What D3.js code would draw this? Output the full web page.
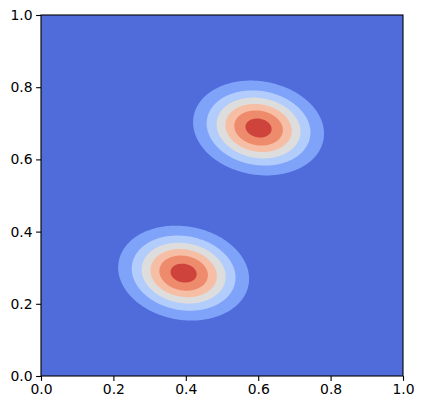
<!DOCTYPE html>
<html>
<head>
<meta charset="utf-8">
<script src="https://cdn.jsdelivr.net/npm/d3@7"></script>
<style>
  body { margin: 0; background: #fff; }
  text { font-family: "DejaVu Sans", sans-serif; }
</style>
</head>
<body>
<script>
// two gaussian blobs, filled contours with the coolwarm colormap
var svgWidth = 423;
var svgHeight = 409;

var margin = { top: 15, right: 20, bottom: 33, left: 41 };
var chartWidth = svgWidth - margin.left - margin.right;
var chartHeight = svgHeight - margin.top - margin.bottom;

// blob parameters
const blobCenterX = [0.394, 0.601];
const blobCenterY = [0.285, 0.687];
const blobSigmaX = [0.0936, 0.0936];
const blobSigmaY = [0.068, 0.068];
const blobRho = [-0.12, -0.12];
const blobPeak = [0.97, 0.97];

// contour levels and ticks
const levels = [0, 0.15, 0.3, 0.45, 0.6, 0.75, 0.9, 1.05];
const xTicks = [0, 0.2, 0.4, 0.6, 0.8, 1.0];
const yTicks = [0, 0.2, 0.4, 0.6, 0.8, 1.0];

// coolwarm colormap stops
const cmapStops = [0, 0.0625, 0.125, 0.1875, 0.25, 0.3125, 0.375, 0.4375, 0.5,
  0.5625, 0.625, 0.6875, 0.75, 0.8125, 0.875, 0.9375, 1];
const cmapColors = ["rgb(59,76,192)", "rgb(77,104,215)", "rgb(98,130,234)", "rgb(119,154,247)",
  "rgb(141,176,254)", "rgb(163,194,255)", "rgb(184,208,249)", "rgb(204,217,238)", "rgb(221,221,221)",
  "rgb(236,211,197)", "rgb(245,196,172)", "rgb(247,177,148)", "rgb(244,154,123)", "rgb(236,127,99)",
  "rgb(222,96,77)", "rgb(203,62,56)", "rgb(180,4,38)"];
var coolwarm = d3.scaleLinear().domain(cmapStops).range(cmapColors);

// grid of values
const n = 240;
var values = new Array(n * n);
for (var j = 0; j < n; j++) {
  for (var i = 0; i < n; i++) {
    var x = (i + 0.5) / n, y = 1 - (j + 0.5) / n;
    var z = 0;
    blobCenterX.forEach(function(cx, k) {
      var dx = (x - cx) / blobSigmaX[k];
      var dy = (y - blobCenterY[k]) / blobSigmaY[k];
      var r = blobRho[k];
      z += blobPeak[k] * Math.exp(-(dx * dx - 2 * r * dx * dy + dy * dy) / (2 * (1 - r * r)));
    });
    values[j * n + i] = z;
  }
}

var svg = d3.select("body")
  .append("svg")
  .attr("width", svgWidth)
  .attr("height", svgHeight);

var chartGroup = svg.append("g")
  .attr("transform", `translate(${margin.left}, ${margin.top})`);

var xScale = d3.scaleLinear().domain([0, 1]).range([0, chartWidth]);
var yScale = d3.scaleLinear().domain([0, 1]).range([chartHeight, 0]);

// grid coords -> pixel coords
var gx = d3.scaleLinear().domain([0, n]).range([0, chartWidth]);
var gy = d3.scaleLinear().domain([0, n]).range([0, chartHeight]);
var path = d3.geoPath(d3.geoTransform({
  point: function(px, py) { this.stream.point(gx(px), gy(py)); }
}));

var bandColor = function(i) { return coolwarm((i + 0.5) / (levels.length - 1)); };

chartGroup.append("rect")
  .attr("width", chartWidth)
  .attr("height", chartHeight)
  .attr("fill", bandColor(0));

var contours = d3.contours().size([n, n]).thresholds(levels.slice(1, -1))(values);

chartGroup.selectAll(".band")
  .data(contours)
  .enter()
  .append("path")
  .attr("d", path)
  .attr("fill", (d, i) => bandColor(i + 1));

// axes
var bottomAxis = d3.axisBottom(xScale).tickValues(xTicks).tickFormat(d3.format(".1f")).tickSize(4.9).tickPadding(3.5);
var leftAxis = d3.axisLeft(yScale).tickValues(yTicks).tickFormat(d3.format(".1f")).tickSize(4.9).tickPadding(3.5);

var gb = chartGroup.append("g")
  .attr("transform", `translate(0, ${chartHeight})`)
  .call(bottomAxis);
var gl = chartGroup.append("g").call(leftAxis);

[gb, gl].forEach(function(g) {
  g.select(".domain").remove();
  g.selectAll("line").attr("stroke", "#000").attr("stroke-width", 1.1);
  g.selectAll("text").attr("font-size", "13.9px").attr("fill", "#000")
    .attr("font-family", "DejaVu Sans");
});

// frame
chartGroup.append("rect")
  .attr("width", chartWidth)
  .attr("height", chartHeight)
  .attr("fill", "none")
  .attr("stroke", "#000")
  .attr("stroke-width", 1.1);
</script>
</body>
</html>
